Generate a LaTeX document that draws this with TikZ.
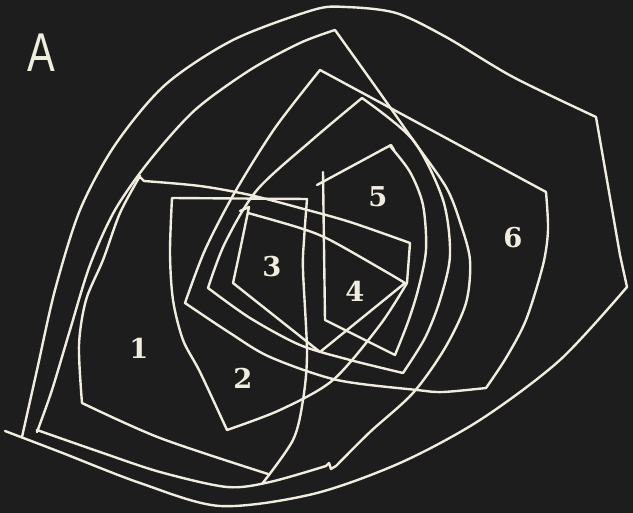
\documentclass[tikz,border=0pt]{standalone}
\usepackage{fontspec}
\newfontfamily\digfont{DejaVu Serif}
\newfontfamily\letfont{Liberation Sans}
\definecolor{bg}{RGB}{29,29,29}
\definecolor{chalk}{RGB}{240,236,222}
\begin{document}
\begin{tikzpicture}[x=0.75pt,y=-0.75pt,
  ln/.style={draw=chalk,line width=1.8pt,line join=round,line cap=round},
  num/.style={text=chalk,font=\digfont\bfseries\fontsize{20.5}{20.5}\selectfont,inner sep=0pt}]
\fill[bg] (0,0) rectangle (633,513);
\useasboundingbox (0,0) rectangle (633,513);

% curve 6 (outermost)
\draw[ln] plot[smooth] coordinates {(5,431) (60,452) (140,483) (220,506) (313,494) (400,463) (480,420) (560,360) (627,287)}
  -- (620,255) -- (596,117)
  -- plot[smooth] coordinates {(596,117) (513,77) (446,37) (396,13) (346,7) (313,10) (233,40) (165,85) (115,145) (80,210) (55,290) (37,370) (22,437)};

% second outer curve
\draw[ln] plot[smooth] coordinates {(335,30) (300,43) (250,70) (195,110) (150,160) (115,210) (90,265) (70,330) (52,390) (37,432)}
  -- plot[smooth] coordinates {(37,430) (100,452) (160,472) (227,487) (270,482) (326,466)}
  -- (329,463) -- (331,469)
  -- plot[smooth] coordinates {(336,466) (370,432) (413,393) (445,348) (466,303) (470,260) (460,222) (446,187) (413,140) (380,93) (335,30)};

% gamma
\draw[ln] (320,70) -- (546,192)
  -- plot[smooth] coordinates {(546,192) (548,230) (543,265) (526,320) (506,358) (486,388)}
  -- plot[smooth] coordinates {(486,388) (443,392) (417,390) (337,380) (270,357) (230,333) (185,303)}
  -- plot[smooth] coordinates {(185,303) (205,250) (235,192) (275,128) (320,70)};

% delta
\draw[ln] plot[smooth] coordinates {(362,98) (413,140) (443,200) (450,255) (440,300) (425,338) (403,373)}
  -- plot[smooth] coordinates {(403,373) (350,360) (300,345) (250,318) (208,288)}
  -- plot[smooth] coordinates {(208,288) (225,243) (257,190) (312,140) (362,98)};

% curve 5
\draw[ln] (323,172) -- (325,320) -- (395,355)
  -- plot[smooth] coordinates {(395,355) (408,322) (418,290) (426,250) (423,205) (410,172) (390,146)};
\draw[ln] (317,185) -- (391,145) -- (394,150);

% curve 3 (kite)
\draw[ln] (240,211) -- (249,207) -- (238,260) -- (233,283) -- (320,352) -- (405,283)
  -- plot[smooth] coordinates {(405,283) (383,270) (330,240) (300,228) (248,213)};

% curves 1 and 2
\draw[ln] (307,199) -- (172,198)
  -- plot[smooth] coordinates {(172,198) (170,253) (173,300) (183,340) (200,372) (227,430)}
  -- plot[smooth] coordinates {(227,430) (280,410) (333,380) (380,325) (407,283)}
  -- (410,243)
  -- plot[smooth] coordinates {(410,243) (350,222) (300,208) (250,195) (200,186) (144,181)};
\draw[ln] (144,181) -- (139,176)
  -- plot[smooth] coordinates {(140,176) (120,213) (103,260) (86,300) (79,345) (82,403)}
  -- plot[smooth] coordinates {(82,403) (160,438) (268,474)};
\draw[ln] plot[smooth] coordinates {(307,199) (304,240) (303,270) (307,353) (303,400) (293,440) (262,484)};

% labels
\node[text=chalk,font=\letfont\fontsize{41}{41}\selectfont,xscale=0.76,inner sep=0pt] (lblA) at (41,53) {A};
\node[num] (n1) at (139,348) {1};
\node[num] (n2) at (243,378) {2};
\node[num] (n3) at (272,267) {3};
\node[num] (n4) at (355,291) {4};
\node[num] (n5) at (378,197) {5};
\node[num] (n6) at (513,238) {6};
\end{tikzpicture}
\end{document}
